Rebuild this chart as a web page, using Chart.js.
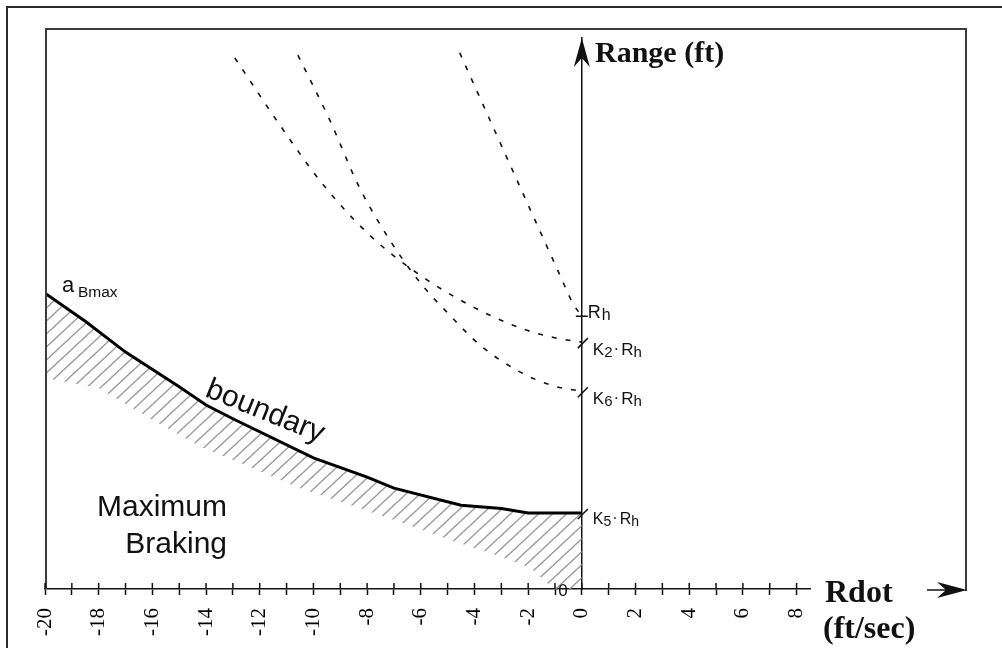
<!DOCTYPE html>
<html>
<head>
<meta charset="utf-8">
<script src="https://cdn.jsdelivr.net/npm/chart.js@4.4.0/dist/chart.umd.min.js"></script>
<style>
  html, body { margin: 0; padding: 0; background: #fff; }
  #grafico { display: block; }
</style>
</head>
<body>
<canvas id="grafico" width="1002" height="648"></canvas>
<script>
// ------- Datos (Rdot en ft/sec, Range en unidades relativas) -------
const boundaryRdot  = [-20, -18.5, -17, -15, -14, -13, -10, -8, -7, -4.5, -3, -2, 0];
const boundaryRange = [53.7, 48.6, 43.0, 36.7, 33.4, 30.9, 23.8, 20.3, 18.3, 15.2, 14.6, 13.8, 13.8];

// borde inferior de la zona rayada (Maximum Braking)
const hatchRdot  = [-20, -18, -16.1, -14.2, -12.1, -10.5, -8.6, -6.8, -4.9, -3.1, -1.9, -1.2, -0.97, 0];
const hatchRange = [38.3, 36.5, 31.0, 25.8, 21.6, 18.3, 15.2, 12.2, 8.9, 6.0, 3.8, 0.7, 0, 0];

// curvas punteadas hacia K2·Rh, K6·Rh y Rh
const k2Rdot  = [-12.93, -11.25, -9.69, -7.9, -6.04, -4.17, -2.31, -1.01, 0];
const k2Range = [96.4, 84.2, 73.7, 64.2, 57.0, 51.5, 47.4, 45.6, 44.8];
const k6Rdot  = [-10.58, -9.39, -8.31, -7.15, -6.04, -4.92, -3.8, -2.31, -1.01, 0];
const k6Range = [96.9, 85.1, 73.1, 63.3, 55.7, 49.7, 44.3, 39.4, 36.8, 35.9];
const rhRdot  = [-4.55, -3.09, -1.75, -0.82, -0.34, 0];
const rhRange = [97.3, 81.5, 67.0, 57.0, 51.9, 49.5];

// marcas sobre el eje Range
const markerLevels = [49.5, 44.8, 35.9, 13.8];
const markerSubs   = ['', '2', '6', '5'];

const xTickLabels = [-20, -18, -16, -14, -12, -10, -8, -6, -4, -2, 0, 2, 4, 6, 8];

const SANS = '"Liberation Sans", Arial, sans-serif';
const SERIF = '"Liberation Serif", "Times New Roman", serif';

function puntos(xs, ys) {
  return xs.map((x, i) => ({ x: x, y: ys[i] }));
}

// patrón de rayas diagonales grises
function patronRayado() {
  const w = 14, h = 13;
  const c = document.createElement('canvas');
  c.width = w; c.height = h;
  const g = c.getContext('2d');
  g.strokeStyle = '#9a9a9a';
  g.lineWidth = 1.3;
  for (const dx of [-w, 0, w]) {
    g.beginPath();
    g.moveTo(dx - w, 2 * h);
    g.lineTo(dx + 2 * w, -h);
    g.stroke();
  }
  return g.createPattern(c, 'repeat');
}

// texto con subíndices: partes = [[texto, tamaño, dy, separación], ...]
function textoPartes(ctx, partes, x, y) {
  let cx = x;
  for (const [t, size, dy, gap] of partes) {
    ctx.font = size + 'px ' + SANS;
    ctx.fillText(t, cx, y + (dy || 0));
    cx += ctx.measureText(t).width + (gap || 0);
  }
}

function flecha(ctx, tip, b1, b2, notch) {
  ctx.beginPath();
  ctx.moveTo(tip[0], tip[1]);
  ctx.lineTo(b1[0], b1[1]);
  ctx.lineTo(notch[0], notch[1]);
  ctx.lineTo(b2[0], b2[1]);
  ctx.closePath();
  ctx.fill();
}

const decoracion = {
  id: 'decoracion',
  beforeDraw(chart) {
    const ctx = chart.ctx;
    ctx.save();
    ctx.fillStyle = '#fff';
    ctx.fillRect(0, 0, chart.width, chart.height);
    ctx.restore();
  },
  afterDraw(chart) {
    const ctx = chart.ctx;
    const xs = chart.scales.x, ys = chart.scales.y;
    const area = chart.chartArea;
    const x0 = xs.getPixelForValue(0);
    ctx.save();

    // marcos
    ctx.strokeStyle = '#2a2a2a';
    ctx.lineWidth = 2;
    ctx.beginPath();
    ctx.moveTo(6, 7); ctx.lineTo(1002, 7);
    ctx.moveTo(7, 7); ctx.lineTo(7, 648);
    ctx.stroke();
    ctx.strokeStyle = '#3c3c3c';
    ctx.beginPath();
    ctx.moveTo(area.left + 1, area.bottom);
    ctx.lineTo(area.left + 1, 29);
    ctx.lineTo(966, 29);
    ctx.lineTo(966, 591);
    ctx.stroke();

    // mitad superior de las marcas del eje x
    ctx.strokeStyle = '#111';
    ctx.lineWidth = 1.5;
    ctx.beginPath();
    xs.ticks.forEach(t => {
      const px = xs.getPixelForValue(t.value);
      ctx.moveTo(px, area.bottom - 6);
      ctx.lineTo(px, area.bottom);
    });
    ctx.stroke();

    // flechas de los ejes
    ctx.fillStyle = '#111';
    flecha(ctx, [x0, area.top], [x0 - 8, area.top + 29], [x0 + 8, area.top + 29], [x0, area.top + 20]);
    ctx.beginPath();
    ctx.moveTo(927, 590); ctx.lineTo(948, 590);
    ctx.stroke();
    flecha(ctx, [967, 590], [937, 582], [937, 598], [946, 590]);

    // marcas y etiquetas del eje Range
    ctx.fillStyle = '#111';
    ctx.textAlign = 'left';
    ctx.textBaseline = 'alphabetic';
    markerLevels.forEach((lv, i) => {
      const py = ys.getPixelForValue(lv);
      ctx.beginPath();
      if (markerSubs[i] === '') {
        ctx.moveTo(x0 - 6, py); ctx.lineTo(x0 + 6, py);
        ctx.stroke();
        textoPartes(ctx, [['R', 18, 0, 1], ['h', 16, 2]], x0 + 6, py + 2);
      } else {
        ctx.moveTo(x0 - 4, py + 6); ctx.lineTo(x0 + 6, py - 4);
        ctx.stroke();
        const big = i === 3 ? 16 : 17, small = i === 3 ? 14 : 15;
        const base = i === 3 ? 11 : 13;
        textoPartes(ctx, [['K', big, 0], [markerSubs[i], small, 2, 1], ['·', big, -1, 2], ['R', big, 0], ['h', small, 2]], x0 + 11, py + base);
      }
    });

    // "0" suelto junto al eje
    ctx.font = '17px ' + SANS;
    ctx.textAlign = 'center';
    ctx.textBaseline = 'middle';
    ctx.fillText('0', 563, 591);

    // a_Bmax
    ctx.textAlign = 'left';
    ctx.textBaseline = 'alphabetic';
    ctx.font = '22px ' + SANS;
    ctx.fillText('a', 62, 292);
    ctx.font = '15.5px ' + SANS;
    ctx.fillText('Bmax', 78, 297);

    // boundary
    ctx.save();
    ctx.translate(204, 396);
    ctx.rotate(22 * Math.PI / 180);
    ctx.font = '30px ' + SANS;
    ctx.fillText('boundary', 0, 0);
    ctx.restore();

    // Maximum Braking
    ctx.textAlign = 'right';
    ctx.font = '30px ' + SANS;
    ctx.fillText('Maximum', 227, 516);
    ctx.fillText('Braking', 227, 553);

    // títulos de los ejes
    ctx.textAlign = 'left';
    ctx.font = 'bold 30px ' + SERIF;
    ctx.fillText('Range (ft)', 595, 62);
    ctx.font = 'bold 32px ' + SERIF;
    ctx.fillText('Rdot', 825, 602);
    ctx.fillText('(ft/sec)', 823, 638);

    ctx.restore();
  }
};

const ctx = document.getElementById('grafico').getContext('2d');

new Chart(ctx, {
  type: 'line',
  data: {
    datasets: [
      {
        label: 'boundary',
        data: puntos(boundaryRdot, boundaryRange),
        borderColor: '#000',
        borderWidth: 3,
        pointRadius: 0,
        tension: 0,
        fill: false
      },
      {
        label: 'Maximum Braking',
        data: puntos(hatchRdot, hatchRange),
        borderWidth: 0,
        borderColor: 'rgba(0,0,0,0)',
        pointRadius: 0,
        tension: 0,
        fill: '-1',
        backgroundColor: patronRayado()
      },
      {
        label: 'K2·Rh',
        data: puntos(k2Rdot, k2Range),
        borderColor: '#111',
        borderWidth: 1.6,
        borderDash: [5, 9],
        pointRadius: 0,
        cubicInterpolationMode: 'monotone',
        fill: false
      },
      {
        label: 'K6·Rh',
        data: puntos(k6Rdot, k6Range),
        borderColor: '#111',
        borderWidth: 1.6,
        borderDash: [5, 9],
        pointRadius: 0,
        cubicInterpolationMode: 'monotone',
        fill: false
      },
      {
        label: 'Rh',
        data: puntos(rhRdot, rhRange),
        borderColor: '#111',
        borderWidth: 1.6,
        borderDash: [5, 9],
        pointRadius: 0,
        cubicInterpolationMode: 'monotone',
        fill: false
      }
    ]
  },
  options: {
    responsive: false,
    animation: false,
    layout: { padding: { left: 45, right: 192, top: 38, bottom: 0 } },
    plugins: {
      legend: { display: false },
      tooltip: { enabled: false }
    },
    scales: {
      x: {
        type: 'linear',
        min: -20,
        max: 8.5,
        afterFit: (scale) => { scale.height = 59; },
        border: { color: '#111', width: 1.5 },
        grid: {
          drawOnChartArea: false,
          tickLength: 6,
          tickWidth: 1.5,
          tickColor: '#111'
        },
        ticks: {
          stepSize: 1,
          includeBounds: false,
          autoSkip: false,
          minRotation: 90,
          maxRotation: 90,
          padding: 13,
          color: '#000',
          font: { family: SERIF, size: 21 },
          callback: (v) => xTickLabels.includes(v) ? String(v) : ''
        }
      },
      y: {
        type: 'linear',
        min: 0,
        max: 100,
        position: { x: 0 },
        border: { color: '#111', width: 1.5 },
        grid: { display: false },
        ticks: { display: false }
      }
    }
  },
  plugins: [decoracion]
});
</script>
</body>
</html>
